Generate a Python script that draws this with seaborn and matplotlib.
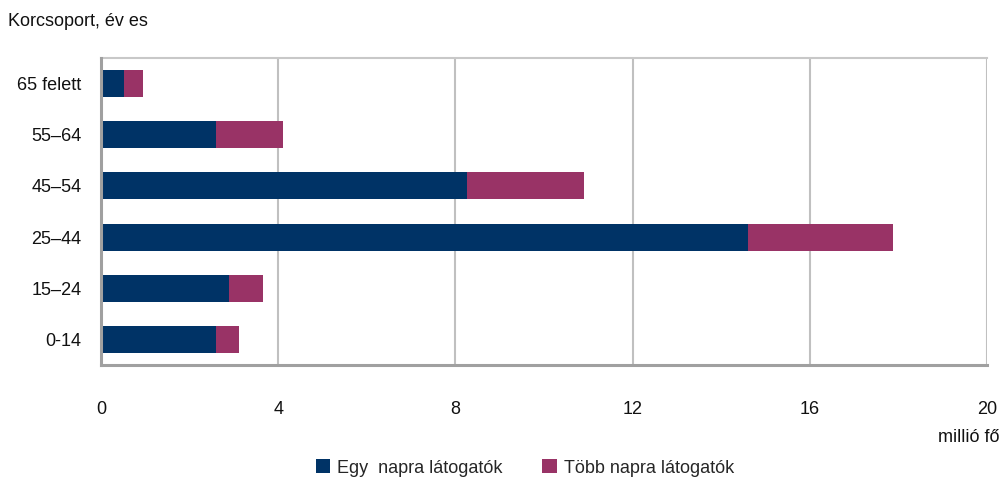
import matplotlib
matplotlib.use("Agg")
import matplotlib.pyplot as plt
import seaborn as sns
import pandas as pd
from matplotlib.patches import Patch

categories = ["65 felett", "55–64", "45–54", "25–44", "15–24", "0-14"]
egy_napra = [0.52, 2.59, 8.27, 14.6, 2.9, 2.59]
tobb_napra = [0.43, 1.51, 2.63, 3.28, 0.75, 0.52]
xticks = [0, 4, 8, 12, 16, 20]

BLUE = "#003366"
MAGENTA = "#993366"

sns.set_theme(style="white")
plt.rcParams["font.family"] = ["Liberation Sans Narrow", "Liberation Sans", "DejaVu Sans"]

df = pd.DataFrame({
    "cat": categories,
    "egy": egy_napra,
    "total": [a + b for a, b in zip(egy_napra, tobb_napra)],
})

fig = plt.figure(figsize=(10, 4.79), dpi=100)
ax = fig.add_axes([0.101, 0.238, 0.886, 0.641])

sns.barplot(data=df, x="total", y="cat", order=categories, color=MAGENTA,
            width=0.53, saturation=1, ax=ax, orient="h")
sns.barplot(data=df, x="egy", y="cat", order=categories, color=BLUE,
            width=0.53, saturation=1, ax=ax, orient="h")

for p in ax.patches:
    p.set_edgecolor("none")

ax.set_xlim(0, 20)
ax.set_xticks(xticks)
ax.set_xticklabels([str(t) for t in xticks], fontsize=13)
ax.tick_params(axis="x", length=0, pad=26)
ax.tick_params(axis="y", length=0, pad=14, labelsize=13)
ax.set_xlabel("")
ax.set_ylabel("")

ax.grid(axis="x", color="#c0c0c0", linewidth=1.5)
ax.set_axisbelow(True)
for side in ["left", "bottom"]:
    ax.spines[side].set_color("#a0a0a0")
    ax.spines[side].set_linewidth(2.2)
for side in ["top", "right"]:
    ax.spines[side].set_color("#c8c8c8")
    ax.spines[side].set_linewidth(1.5)
ax.spines["right"].set_visible(False)
ax.spines["left"].set_zorder(5)
ax.spines["bottom"].set_zorder(5)

fig.text(0.008, 0.955, "Korcsoport, év es", fontsize=13, ha="left", va="center", color="#111111")
fig.text(0.999, 0.087, "millió fő", fontsize=13, ha="right", va="center", color="#111111")

handles = [Patch(facecolor=BLUE, edgecolor="none", label="Egy  napra látogatók"),
           Patch(facecolor=MAGENTA, edgecolor="none", label="Több napra látogatók")]
fig.legend(handles=handles, loc="center", bbox_to_anchor=(0.525, 0.023), ncol=2,
           frameon=False, fontsize=13, handlelength=0.8, handleheight=0.8,
           handletextpad=0.4, columnspacing=2.2)

for lab in ax.get_xticklabels() + ax.get_yticklabels():
    lab.set_color("#111111")

fig.savefig("out.png", dpi=100)
